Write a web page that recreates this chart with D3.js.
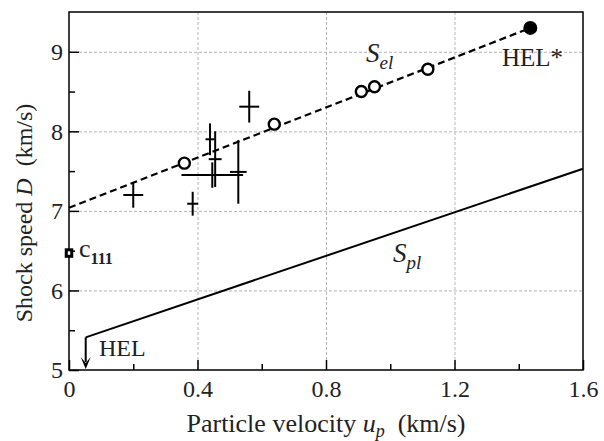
<!DOCTYPE html>
<html>
<head>
<meta charset="utf-8">
<script src="https://cdn.jsdelivr.net/npm/d3@7"></script>
<style>
  body { margin: 0; background: #fff; }
  svg { font-family: "Liberation Serif", "Times New Roman", serif; }
  .axis path { display: none; }
  .axis line { stroke: #000; stroke-width: 1.5; }
  .axis text { font-size: 24px; fill: #222; font-family: "Liberation Serif", serif; }
  .grid line { stroke: #b5b5b5; stroke-width: 1; stroke-dasharray: 3,2; }
  .grid path { display: none; }
</style>
</head>
<body>
<script>
// elastic precursor (open circles) and HEL* point
var elastic = [
  [0.359, 7.60],
  [0.639, 8.09],
  [0.910, 8.50],
  [0.951, 8.56],
  [1.117, 8.78]
];
var helStar = [1.436, 9.30];

// crosses: [up, D, up error, D error]
var crosses = [
  [0.200, 7.20, 0.031, 0.16],
  [0.385, 7.09, 0.017, 0.15],
  [0.439, 7.90, 0.014, 0.20],
  [0.455, 7.65, 0.020, 0.35],
  [0.446, 7.45, 0.096, 0.16],
  [0.527, 7.49, 0.026, 0.40],
  [0.561, 8.31, 0.031, 0.20]
];

var selLine = [[0, 7.04], [1.436, 9.30]];
var splLine = [[0.052, 5.41], [1.6, 7.53]];
var hel = [0.052, 5.41];
var c111 = [0, 6.47];

var xMajor = [0, 0.4, 0.8, 1.2, 1.6];
var xMinor = [0.2, 0.6, 1.0, 1.4];
var yMajor = [5, 6, 7, 8, 9];
var yMinor = [5.5, 6.5, 7.5, 8.5];

var margin = {top: 12, right: 21, bottom: 71, left: 69};
var width = 604 - margin.left - margin.right;
var height = 441 - margin.top - margin.bottom;

var x = d3.scaleLinear().domain([0, 1.6]).range([0, width]);
var y = d3.scaleLinear().domain([5, 9.5]).range([height, 0]);

var svg = d3.select('body').append('svg')
  .attr('width', 604)
  .attr('height', 441);

var main = svg.append('g')
  .attr('transform', 'translate(' + margin.left + ',' + margin.top + ')');

// grid
main.append('g').attr('class', 'grid')
  .attr('transform', 'translate(0,' + height + ')')
  .call(d3.axisBottom(x).tickValues([0.4, 0.8, 1.2]).tickSize(-height).tickFormat(''));
main.append('g').attr('class', 'grid')
  .call(d3.axisLeft(y).tickValues([6, 7, 8, 9]).tickSize(-width).tickFormat(''));

// axes with inward ticks
main.append('g').attr('class', 'axis')
  .attr('transform', 'translate(0,' + height + ')')
  .call(d3.axisBottom(x).tickValues(xMajor).tickSize(-10).tickPadding(10)
    .tickFormat(function(d) { return d === 0 ? '0' : d3.format('.1f')(d); }));
main.append('g').attr('class', 'axis')
  .attr('transform', 'translate(0,' + height + ')')
  .call(d3.axisBottom(x).tickValues(xMinor).tickSize(-6).tickFormat(''));
main.append('g').attr('class', 'axis')
  .call(d3.axisLeft(y).tickValues(yMajor).tickSize(-10).tickPadding(6).tickFormat(d3.format('d')));
main.append('g').attr('class', 'axis')
  .call(d3.axisLeft(y).tickValues(yMinor).tickSize(-6).tickFormat(''));

main.append('rect')
  .attr('width', width).attr('height', height)
  .attr('fill', 'none').attr('stroke', '#000').attr('stroke-width', 1.5);

var line = d3.line()
  .x(function(d) { return x(d[0]); })
  .y(function(d) { return y(d[1]); });

main.append('path').datum(selLine)
  .attr('d', line).attr('fill', 'none')
  .attr('stroke', '#000').attr('stroke-width', 2.2).attr('stroke-dasharray', '7,4');

main.append('path').datum(splLine)
  .attr('d', line).attr('fill', 'none')
  .attr('stroke', '#000').attr('stroke-width', 2);

// error crosses
var cr = main.append('g').attr('stroke', '#000').attr('stroke-width', 2);
cr.selectAll('.h').data(crosses).enter().append('line')
  .attr('x1', function(d) { return x(d[0] - d[2]); })
  .attr('x2', function(d) { return x(d[0] + d[2]); })
  .attr('y1', function(d) { return y(d[1]); })
  .attr('y2', function(d) { return y(d[1]); });
cr.selectAll('.v').data(crosses).enter().append('line')
  .attr('x1', function(d) { return x(d[0]); })
  .attr('x2', function(d) { return x(d[0]); })
  .attr('y1', function(d) { return y(d[1] - d[3]); })
  .attr('y2', function(d) { return y(d[1] + d[3]); });

main.selectAll('.pt').data(elastic).enter().append('circle')
  .attr('cx', function(d) { return x(d[0]); })
  .attr('cy', function(d) { return y(d[1]); })
  .attr('r', 5.5)
  .attr('fill', '#fff').attr('stroke', '#000').attr('stroke-width', 2.4);

main.append('circle')
  .attr('cx', x(helStar[0])).attr('cy', y(helStar[1])).attr('r', 7)
  .attr('fill', '#000');

// c111 marker
main.append('rect')
  .attr('x', x(c111[0]) - 2.75).attr('y', y(c111[1]) - 3.25)
  .attr('width', 5.5).attr('height', 6.5)
  .attr('fill', '#fff').attr('stroke', '#000').attr('stroke-width', 3);

// HEL arrow
var hx = x(hel[0]), hy = y(hel[1]);
main.append('line')
  .attr('x1', hx).attr('x2', hx).attr('y1', hy).attr('y2', height - 8)
  .attr('stroke', '#000').attr('stroke-width', 2);
main.append('path')
  .attr('d', 'M' + (hx - 5) + ',' + (height - 13) + 'L' + hx + ',' + (height - 1) + 'L' + (hx + 5) + ',' + (height - 13) + 'L' + hx + ',' + (height - 7) + 'Z')
  .attr('fill', '#000');

// annotations
svg.append('text')
  .attr('x', 99).attr('y', 356)
  .style('font-size', '24px').attr('fill', '#222')
  .text('HEL');

svg.append('text')
  .attr('x', 502).attr('y', 66)
  .style('font-size', '25px').attr('fill', '#222')
  .text('HEL*');

var sel = svg.append('text').attr('x', 366).attr('y', 62).attr('fill', '#222')
  .style('font-size', '27px').style('font-style', 'italic');
sel.append('tspan').text('S');
sel.append('tspan').attr('dy', 7).style('font-size', '19px').text('el');

var spl = svg.append('text').attr('x', 393).attr('y', 262).attr('fill', '#222')
  .style('font-size', '27px').style('font-style', 'italic');
spl.append('tspan').text('S');
spl.append('tspan').attr('dy', 7).style('font-size', '19px').text('pl');

var ct = svg.append('text').attr('x', 79).attr('y', 257).attr('fill', '#222')
  .style('font-size', '26px');
ct.append('tspan').text('c');
ct.append('tspan').attr('dy', 7).style('font-size', '16px').style('font-weight', 'bold').text('111');

// axis titles
var xt = svg.append('text')
  .attr('x', margin.left + width / 2).attr('y', 432)
  .style('text-anchor', 'middle').style('font-size', '26px').attr('fill', '#222');
xt.append('tspan').text('Particle velocity ');
xt.append('tspan').style('font-style', 'italic').text('u');
xt.append('tspan').attr('dy', 5).style('font-style', 'italic').style('font-size', '18px').text('p');
xt.append('tspan').attr('dy', -5).text('\u00a0\u00a0(km/s)');

var yt = svg.append('text')
  .attr('transform', 'rotate(-90)')
  .attr('x', -213).attr('y', 32)
  .style('text-anchor', 'middle').style('font-size', '24px').attr('fill', '#222');
yt.append('tspan').text('Shock speed ');
yt.append('tspan').style('font-style', 'italic').text('D');
yt.append('tspan').text('\u00a0\u00a0(km/s)');
</script>
</body>
</html>
